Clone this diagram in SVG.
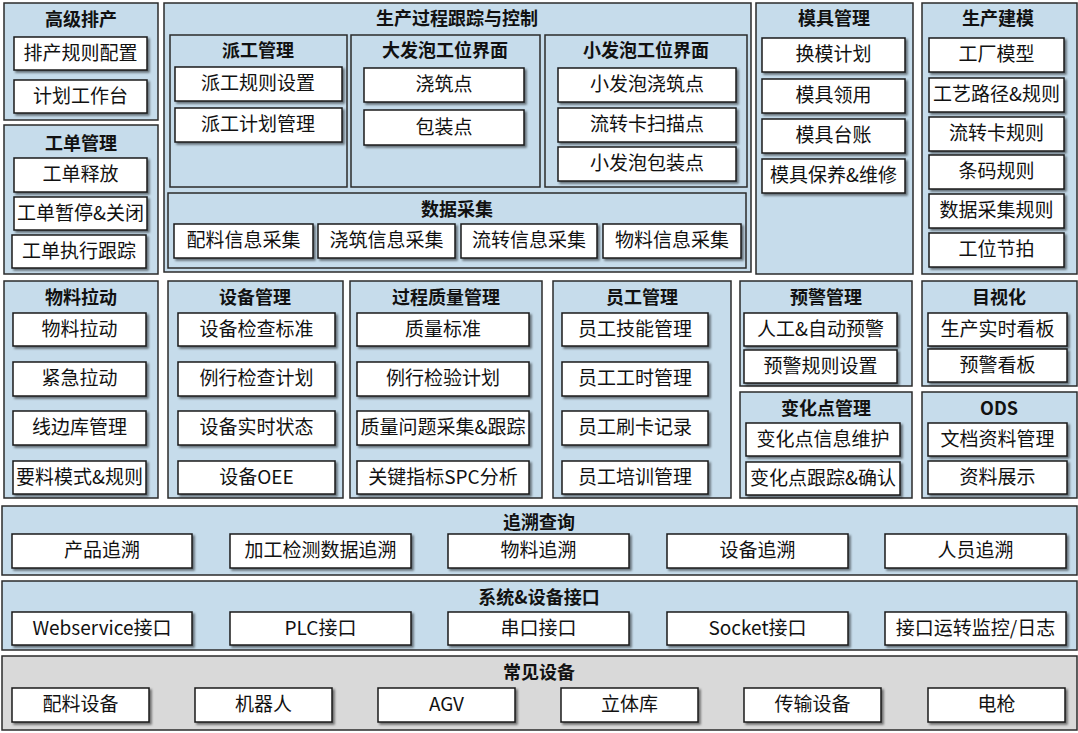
<svg xmlns="http://www.w3.org/2000/svg" width="1078" height="733" viewBox="0 0 1078 733">
<defs>
<filter id="sh" x="-10%" y="-20%" width="130%" height="150%"><feDropShadow dx="2" dy="2" stdDeviation="1" flood-color="#000" flood-opacity="0.5"/></filter>
<style>
.p{fill:#c6dceb;stroke:#2b2b2b;stroke-width:1.5}
.g{fill:#d9d9d9;stroke:#2b2b2b;stroke-width:1.5}
.b{fill:#fff;stroke:#1a1a1a;stroke-width:1.5;filter:url(#sh)}
.t{font-family:"Noto Sans CJK SC","Liberation Sans",sans-serif;font-weight:bold;font-size:18px;fill:#111;text-anchor:middle}
.x{font-family:"Noto Sans CJK SC","Liberation Sans",sans-serif;font-size:19px;fill:#111;text-anchor:middle}
</style>
</defs>
<rect width="1078" height="733" fill="#fff"/>
<g id="gjpc"><rect class="p" x="4" y="3" width="154" height="117"/><text class="t" x="81" y="26">高级排产</text>
<rect class="b" x="14" y="37" width="133" height="33"/><text class="x" x="80.5" y="60">排产规则配置</text>
<rect class="b" x="14" y="80" width="133" height="33"/><text class="x" x="80.5" y="103">计划工作台</text></g>
<g id="gdgl"><rect class="p" x="4" y="125" width="154" height="149"/><text class="t" x="81" y="150">工单管理</text>
<rect class="b" x="14" y="158" width="133" height="34"/><text class="x" x="80.5" y="181">工单释放</text>
<rect class="b" x="14" y="197" width="133" height="33"/><text class="x" x="80.5" y="220">工单暂停&amp;关闭</text>
<rect class="b" x="12" y="235" width="134" height="33"/><text class="x" x="79" y="258">工单执行跟踪</text></g>
<g id="scgc"><rect class="p" x="164" y="3" width="587" height="269"/><text class="t" x="457" y="25">生产过程跟踪与控制</text>
<g id="pggl"><rect class="p" x="170" y="35" width="177" height="152"/><text class="t" x="258" y="57">派工管理</text>
<rect class="b" x="175" y="67" width="167" height="34"/><text class="x" x="258" y="90">派工规则设置</text>
<rect class="b" x="175" y="108" width="167" height="34"/><text class="x" x="258" y="131">派工计划管理</text></g>
<g id="dfp"><rect class="p" x="351" y="35" width="189" height="152"/><text class="t" x="445" y="57">大发泡工位界面</text>
<rect class="b" x="364" y="68" width="160" height="34"/><text class="x" x="444" y="91">浇筑点</text>
<rect class="b" x="364" y="110" width="160" height="35"/><text class="x" x="444" y="134">包装点</text></g>
<g id="xfp"><rect class="p" x="545" y="35" width="202" height="152"/><text class="t" x="646" y="57">小发泡工位界面</text>
<rect class="b" x="558" y="68" width="178" height="34"/><text class="x" x="647" y="91">小发泡浇筑点</text>
<rect class="b" x="558" y="108" width="178" height="34"/><text class="x" x="647" y="131">流转卡扫描点</text>
<rect class="b" x="558" y="147" width="178" height="34"/><text class="x" x="647" y="170">小发泡包装点</text></g>
<g id="sjcj"><rect class="p" x="168" y="193" width="578" height="75"/><text class="t" x="457" y="216">数据采集</text>
<rect class="b" x="174" y="224" width="139" height="34"/><text class="x" x="243.5" y="247">配料信息采集</text>
<rect class="b" x="318" y="224" width="137" height="34"/><text class="x" x="386.5" y="247">浇筑信息采集</text>
<rect class="b" x="461" y="224" width="136" height="34"/><text class="x" x="529" y="247">流转信息采集</text>
<rect class="b" x="603" y="224" width="138" height="34"/><text class="x" x="672" y="247">物料信息采集</text></g></g>
<g id="mjgl"><rect class="p" x="756" y="3" width="157" height="271"/><text class="t" x="834" y="25">模具管理</text>
<rect class="b" x="762" y="38" width="143" height="34"/><text class="x" x="833.5" y="61">换模计划</text>
<rect class="b" x="762" y="79" width="143" height="34"/><text class="x" x="833.5" y="102">模具领用</text>
<rect class="b" x="762" y="119" width="143" height="34"/><text class="x" x="833.5" y="142">模具台账</text>
<rect class="b" x="762" y="159" width="143" height="34"/><text class="x" x="833.5" y="182">模具保养&amp;维修</text></g>
<g id="scjm"><rect class="p" x="922" y="3" width="155" height="271"/><text class="t" x="998" y="25">生产建模</text>
<rect class="b" x="929" y="38" width="135" height="34"/><text class="x" x="996.5" y="61">工厂模型</text>
<rect class="b" x="929" y="78" width="135" height="34"/><text class="x" x="996.5" y="101">工艺路径&amp;规则</text>
<rect class="b" x="929" y="117" width="135" height="34"/><text class="x" x="996.5" y="140">流转卡规则</text>
<rect class="b" x="929" y="155" width="135" height="34"/><text class="x" x="996.5" y="178">条码规则</text>
<rect class="b" x="929" y="194" width="135" height="34"/><text class="x" x="996.5" y="217">数据采集规则</text>
<rect class="b" x="929" y="233" width="135" height="34"/><text class="x" x="996.5" y="256">工位节拍</text></g>
<g id="wlld"><rect class="p" x="4" y="281" width="154" height="217"/><text class="t" x="81" y="304">物料拉动</text>
<rect class="b" x="13" y="313" width="133" height="33"/><text class="x" x="79.5" y="336">物料拉动</text>
<rect class="b" x="13" y="362" width="133" height="34"/><text class="x" x="79.5" y="385">紧急拉动</text>
<rect class="b" x="13" y="411" width="133" height="34"/><text class="x" x="79.5" y="434">线边库管理</text>
<rect class="b" x="13" y="461" width="133" height="33"/><text class="x" x="79.5" y="484">要料模式&amp;规则</text></g>
<g id="sbgl"><rect class="p" x="168" y="281" width="175" height="217"/><text class="t" x="255" y="304">设备管理</text>
<rect class="b" x="178" y="313" width="157" height="33"/><text class="x" x="256.5" y="336">设备检查标准</text>
<rect class="b" x="178" y="362" width="157" height="34"/><text class="x" x="256.5" y="385">例行检查计划</text>
<rect class="b" x="178" y="411" width="157" height="34"/><text class="x" x="256.5" y="434">设备实时状态</text>
<rect class="b" x="178" y="461" width="157" height="33"/><text class="x" x="256.5" y="484">设备OEE</text></g>
<g id="zlgl"><rect class="p" x="350" y="281" width="192" height="217"/><text class="t" x="446" y="304">过程质量管理</text>
<rect class="b" x="357" y="313" width="172" height="33"/><text class="x" x="443" y="336">质量标准</text>
<rect class="b" x="357" y="362" width="172" height="34"/><text class="x" x="443" y="385">例行检验计划</text>
<rect class="b" x="357" y="411" width="172" height="34"/><text class="x" x="443" y="434">质量问题采集&amp;跟踪</text>
<rect class="b" x="357" y="461" width="172" height="33"/><text class="x" x="443" y="484">关键指标SPC分析</text></g>
<g id="yggl"><rect class="p" x="553" y="281" width="178" height="217"/><text class="t" x="642" y="304">员工管理</text>
<rect class="b" x="562" y="313" width="146" height="33"/><text class="x" x="635" y="336">员工技能管理</text>
<rect class="b" x="562" y="362" width="146" height="34"/><text class="x" x="635" y="385">员工工时管理</text>
<rect class="b" x="562" y="411" width="146" height="34"/><text class="x" x="635" y="434">员工刷卡记录</text>
<rect class="b" x="562" y="461" width="146" height="33"/><text class="x" x="635" y="484">员工培训管理</text></g>
<g id="yjgl"><rect class="p" x="740" y="281" width="172" height="105"/><text class="t" x="826" y="304">预警管理</text>
<rect class="b" x="744" y="313" width="153" height="33"/><text class="x" x="820.5" y="336">人工&amp;自动预警</text>
<rect class="b" x="744" y="350" width="153" height="33"/><text class="x" x="820.5" y="373">预警规则设置</text></g>
<g id="bhd"><rect class="p" x="740" y="392" width="172" height="106"/><text class="t" x="826" y="415">变化点管理</text>
<rect class="b" x="746" y="423" width="154" height="33"/><text class="x" x="823" y="446">变化点信息维护</text>
<rect class="b" x="746" y="462" width="154" height="33"/><text class="x" x="823" y="485">变化点跟踪&amp;确认</text></g>
<g id="msh"><rect class="p" x="922" y="281" width="155" height="105"/><text class="t" x="999" y="304">目视化</text>
<rect class="b" x="928" y="313" width="139" height="33"/><text class="x" x="997.5" y="336">生产实时看板</text>
<rect class="b" x="928" y="349" width="139" height="33"/><text class="x" x="997.5" y="372">预警看板</text></g>
<g id="ods"><rect class="p" x="922" y="392" width="155" height="106"/><text class="t" x="999" y="415">ODS</text>
<rect class="b" x="928" y="423" width="139" height="33"/><text class="x" x="997.5" y="446">文档资料管理</text>
<rect class="b" x="928" y="461" width="139" height="33"/><text class="x" x="997.5" y="484">资料展示</text></g>
<g id="zscx"><rect class="p" x="2" y="506" width="1075" height="69"/><text class="t" x="539" y="529">追溯查询</text>
<rect class="b" x="12" y="534" width="180" height="34"/><text class="x" x="102" y="557">产品追溯</text>
<rect class="b" x="230" y="534" width="181" height="34"/><text class="x" x="320.5" y="557">加工检测数据追溯</text>
<rect class="b" x="448" y="534" width="181" height="34"/><text class="x" x="538.5" y="557">物料追溯</text>
<rect class="b" x="667" y="534" width="181" height="34"/><text class="x" x="757.5" y="557">设备追溯</text>
<rect class="b" x="885" y="534" width="181" height="34"/><text class="x" x="975.5" y="557">人员追溯</text></g>
<g id="jk"><rect class="p" x="2" y="581" width="1075" height="69"/><text class="t" x="539" y="604">系统&amp;设备接口</text>
<rect class="b" x="12" y="612" width="180" height="33"/><text class="x" x="102" y="635">Webservice接口</text>
<rect class="b" x="230" y="612" width="181" height="33"/><text class="x" x="320.5" y="635">PLC接口</text>
<rect class="b" x="448" y="612" width="181" height="33"/><text class="x" x="538.5" y="635">串口接口</text>
<rect class="b" x="667" y="612" width="181" height="33"/><text class="x" x="757.5" y="635">Socket接口</text>
<rect class="b" x="885" y="612" width="181" height="33"/><text class="x" x="975.5" y="635">接口运转监控/日志</text></g>
<g id="cjsb"><rect class="g" x="2" y="656" width="1075" height="74"/><text class="t" x="539" y="679">常见设备</text>
<rect class="b" x="12" y="688" width="137" height="34"/><text class="x" x="80.5" y="711">配料设备</text>
<rect class="b" x="195" y="688" width="137" height="34"/><text class="x" x="263.5" y="711">机器人</text>
<rect class="b" x="378" y="688" width="137" height="34"/><text class="x" x="446.5" y="711">AGV</text>
<rect class="b" x="561" y="688" width="137" height="34"/><text class="x" x="629.5" y="711">立体库</text>
<rect class="b" x="744" y="688" width="137" height="34"/><text class="x" x="812.5" y="711">传输设备</text>
<rect class="b" x="928" y="688" width="137" height="34"/><text class="x" x="996.5" y="711">电枪</text></g>
<g id="connectors"/>
</svg>
